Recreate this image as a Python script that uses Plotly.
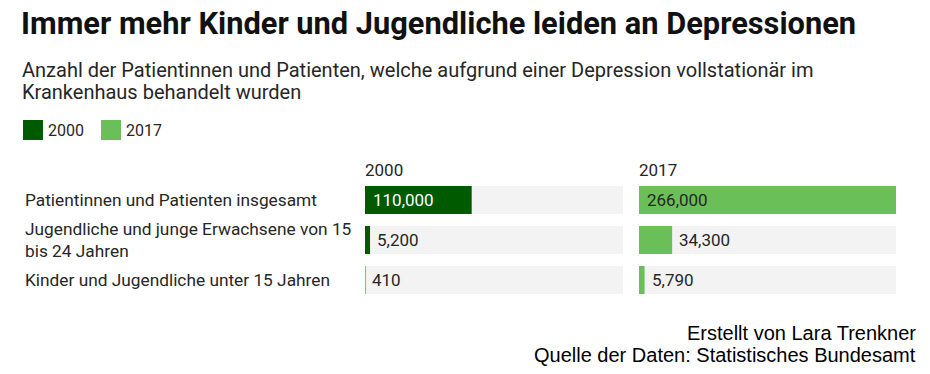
import plotly.graph_objects as go

categories = [
    "Patientinnen und Patienten insgesamt",
    "Jugendliche und junge Erwachsene von 15<br>bis 24 Jahren",
    "Kinder und Jugendliche unter 15 Jahren",
]
years = ["2000", "2017"]
values_2000 = [110000, 5200, 410]
values_2017 = [266000, 34300, 5790]
value_labels_2000 = ["110,000", "5,200", "410"]
value_labels_2017 = ["266,000", "34,300", "5,790"]

W, H = 930, 374
def xp(px): return px / W
def yp(py): return 1 - py / H

DARK = "#005a00"
LIGHT = "#6abf59"
GRAY = "#f3f3f3"
TXT = "#262626"
FONT = "Roboto"

scale_max = 266000
rows = list(range(len(categories)))

fig = go.Figure()
cols = [
    (values_2000, value_labels_2000, DARK, "x", "y"),
    (values_2017, value_labels_2017, LIGHT, "x2", "y2"),
]
annotations = []
for vals, labs, col, xa, ya in cols:
    fig.add_trace(go.Bar(x=[scale_max] * len(rows), y=rows, orientation="h",
                         marker=dict(color=GRAY, line=dict(width=0)), width=0.7,
                         xaxis=xa, yaxis=ya, hoverinfo="skip", showlegend=False))
    fig.add_trace(go.Bar(x=vals, y=rows, orientation="h",
                         marker=dict(color=col, line=dict(width=0)), width=0.7,
                         xaxis=xa, yaxis=ya, hoverinfo="skip", showlegend=False))
    for r, v, lab in zip(rows, vals, labs):
        inside = v > 0.3 * scale_max
        if inside:
            color = "white" if col == DARK else TXT
            annotations.append(dict(x=0, y=r, xref=xa, yref=ya, text=lab, showarrow=False,
                                    xanchor="left", yanchor="middle", xshift=6,
                                    font=dict(family=FONT, size=17, color=color)))
        else:
            annotations.append(dict(x=v, y=r, xref=xa, yref=ya, text=lab, showarrow=False,
                                    xanchor="left", yanchor="middle", xshift=5,
                                    font=dict(family=FONT, size=17, color=TXT)))

# row labels
for r, cat in enumerate(categories):
    annotations.append(dict(x=xp(23), y=r, xref="paper", yref="y", text=cat, showarrow=False,
                            xanchor="left", yanchor="middle", align="left",
                            font=dict(family=FONT, size=17.3, color=TXT)))

# column headers
for yr, x0 in zip(years, [365, 639]):
    annotations.append(dict(x=xp(x0 - 2), y=yp(170), xref="paper", yref="paper", text=yr,
                            showarrow=False, xanchor="left", yanchor="middle",
                            font=dict(family=FONT, size=17, color=TXT)))

# title / subtitle
annotations.append(dict(x=xp(20), y=yp(23), xref="paper", yref="paper",
                        text="<b>Immer mehr Kinder und Jugendliche leiden an Depressionen</b>",
                        showarrow=False, xanchor="left", yanchor="middle", borderpad=0,
                        font=dict(family=FONT, size=30.8, color="#111111")))
annotations.append(dict(x=xp(20), y=yp(70), xref="paper", yref="paper",
                        text="Anzahl der Patientinnen und Patienten, welche aufgrund einer Depression vollstationär im",
                        showarrow=False, xanchor="left", yanchor="middle",
                        font=dict(family=FONT, size=20, color=TXT)))
annotations.append(dict(x=xp(20), y=yp(92), xref="paper", yref="paper",
                        text="Krankenhaus behandelt wurden",
                        showarrow=False, xanchor="left", yanchor="middle",
                        font=dict(family=FONT, size=20, color=TXT)))

# legend
shapes = []
for yr, col, sx in zip(years, [DARK, LIGHT], [23, 101]):
    shapes.append(dict(type="rect", xref="paper", yref="paper",
                       x0=xp(sx), x1=xp(sx + 20), y0=yp(140), y1=yp(120),
                       fillcolor=col, line=dict(width=0)))
    annotations.append(dict(x=xp(sx + 23), y=yp(130), xref="paper", yref="paper", text=yr,
                            showarrow=False, xanchor="left", yanchor="middle",
                            font=dict(family=FONT, size=16, color=TXT)))

# footer
annotations.append(dict(x=xp(918), y=yp(333), xref="paper", yref="paper",
                        text="Erstellt von Lara Trenkner", showarrow=False,
                        xanchor="right", yanchor="middle",
                        font=dict(family="Liberation Sans, Arial", size=20, color="#000")))
annotations.append(dict(x=xp(918), y=yp(355), xref="paper", yref="paper",
                        text="Quelle der Daten: Statistisches Bundesamt", showarrow=False,
                        xanchor="right", yanchor="middle",
                        font=dict(family="Liberation Sans, Arial", size=20, color="#000")))

ax_common = dict(range=[0, scale_max], showgrid=False, zeroline=False, showticklabels=False,
                 showline=False, fixedrange=True)
y_common = dict(range=[2.5, -0.5], showgrid=False, zeroline=False, showticklabels=False,
                showline=False, fixedrange=True, domain=[yp(300), yp(180)])

fig.update_layout(
    width=W, height=H, margin=dict(l=0, r=0, t=0, b=0),
    paper_bgcolor="white", plot_bgcolor="white",
    barmode="overlay", showlegend=False,
    xaxis=dict(domain=[xp(365), xp(623)], **ax_common),
    xaxis2=dict(domain=[xp(639), xp(896)], **ax_common),
    yaxis=dict(anchor="x", **y_common),
    yaxis2=dict(anchor="x2", **y_common),
    annotations=annotations, shapes=shapes,
)

fig.write_html("out.html", config={"displayModeBar": False, "staticPlot": True},
               post_script="document.body.style.margin='0';document.body.style.overflow='hidden';")
